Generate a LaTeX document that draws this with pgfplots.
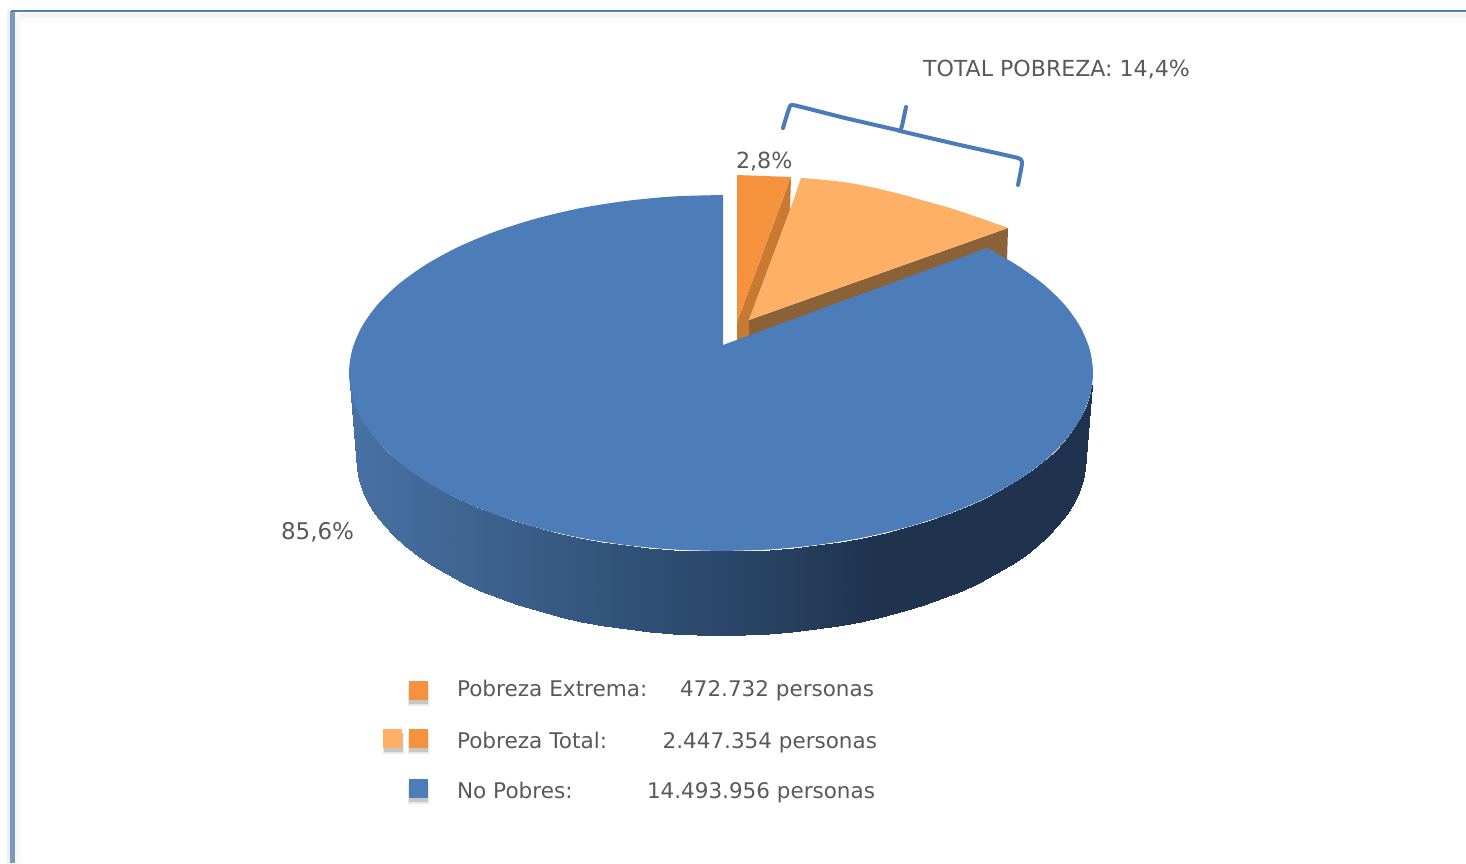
\documentclass[border=0pt]{standalone}
\usepackage{pgfplots}
\pgfplotsset{compat=1.18}
\usepackage{fontspec}
\setmainfont{DejaVu Sans}
\definecolor{blueTop}{RGB}{77,125,185}
\definecolor{orangeA}{RGB}{246,146,62}
\definecolor{orangeB}{RGB}{253,176,102}
\definecolor{orangeS}{RGB}{200,122,50}
\definecolor{brownS}{RGB}{139,98,55}
\definecolor{frameC}{RGB}{88,124,172}
\definecolor{frameL}{RGB}{125,152,190}
\definecolor{braceC}{RGB}{74,123,184}
\definecolor{txt}{RGB}{89,89,89}
\begin{document}
\begin{tikzpicture}[lbl/.style={text=txt, font=\fontsize{#1}{25}\selectfont, inner sep=0pt, outer sep=0pt}]
\begin{axis}[
  name=ax,
  scale only axis, width=1466pt, height=863pt,
  xmin=0, xmax=1466, ymin=0, ymax=863, y dir=reverse,
  hide axis, clip=true,
  colormap={side}{rgb255(0pt)=(72,114,164); rgb255(290pt)=(48,80,118); rgb255(450pt)=(38,62,92); rgb255(520pt)=(31,51,78); rgb255(743pt)=(31,51,78)},
  point meta min=350, point meta max=1093,
]
% frame shadow
\addplot[draw=black!2, line width=10pt] coordinates {(1466,18) (15,18)};
\addplot[draw=black!5, line width=4pt] coordinates {(1466,15) (15,15)};
\addplot[draw=black!3, line width=5pt] coordinates {(17,863) (17,13)};
\addplot[draw=black!6, line width=3pt] coordinates {(8.5,863) (8.5,10)};
% frame
\addplot[draw=frameL, line width=4.5pt] coordinates {(12.5,863) (12.5,11)};
\addplot[draw=frameC, line width=2.6pt] coordinates {(10.5,11) (1466,11)};

% brown side of total-poverty slice
\addplot[draw=none, fill=brownS] coordinates {(1008,228) (749,320) (749,345) (1007,262)} -- cycle;
% dark side of extreme slice
\addplot[draw=none, fill=orangeS] coordinates {(791,177) (737,322) (737,345) (749,340) (749,320) (790,210)} -- cycle;
% extreme poverty front
\addplot[draw=none, fill=orangeA] coordinates {(737,175) (791,177) (737,322)} -- cycle;
% total poverty front
\addplot[draw=none, fill=orangeB, smooth] coordinates {(801,178) (825,180) (850,183) (875,188) (900,194) (925,201) (950,208) (980,218) (1008,228)} -- cycle;
\addplot[draw=none, fill=orangeB] coordinates {(801,178) (825,180.5) (850,183.5) (875,188.5) (900,194.5) (925,201.5) (950,208.5) (980,218.5) (1008,228) (749,320) (790,210)} -- cycle;

% pie side
\addplot[surf, shader=interp, point meta=x] coordinates {
(349,373) (349.8,384.6) (352.2,396.2) (356.1,407.7) (361.7,419.1) (368.7,430.2) (377.3,441.1) (387.4,451.7) (398.8,462) (411.7,471.9) (425.9,481.4) (441.3,490.4) (458,498.9) (475.7,506.8) (494.5,514.2) (514.3,521) (535,527.1) (556.5,532.6) (578.6,537.5) (601.4,541.6) (624.7,544.9) (648.4,547.6) (672.5,549.5) (696.7,550.6) (721,551) (745.3,550.6) (769.5,549.5) (793.6,547.6) (817.3,544.9) (840.6,541.6) (863.4,537.5) (885.5,532.6) (907,527.1) (927.7,521) (947.5,514.2) (966.3,506.8) (984,498.9) (1000.7,490.4) (1016.1,481.4) (1030.3,471.9) (1043.2,462) (1054.6,451.7) (1064.7,441.1) (1073.3,430.2) (1080.3,419.1) (1085.9,407.7) (1089.8,396.2) (1092.2,384.6) (1093,373)

(356,457) (356.8,468.6) (359.1,480.2) (363,491.7) (368.4,503.1) (375.4,514.2) (383.8,525.1) (393.6,535.7) (404.9,546) (417.5,555.9) (431.4,565.4) (446.6,574.4) (462.9,582.9) (480.3,590.8) (498.8,598.2) (518.2,605) (538.5,611.1) (559.6,616.6) (581.3,621.5) (603.7,625.6) (626.5,628.9) (649.8,631.6) (673.4,633.5) (697.1,634.6) (721,635) (744.9,634.6) (768.6,633.5) (792.2,631.6) (815.5,628.9) (838.3,625.6) (860.7,621.5) (882.4,616.6) (903.5,611.1) (923.8,605) (943.2,598.2) (961.7,590.8) (979.1,582.9) (995.4,574.4) (1010.6,565.4) (1024.5,555.9) (1037.1,546) (1048.4,535.7) (1058.2,525.1) (1066.6,514.2) (1073.6,503.1) (1079,491.7) (1082.9,480.2) (1085.2,468.6) (1086,457)
};

% pie top: left half, right part, and the wedge that joins them at the apex
\addplot[draw=none, fill=blueTop, smooth] coordinates {
(723,195) (721,195) (672.5,196.5) (624.7,201.1) (578.6,208.5) (535,218.9) (494.5,231.8) (458,247.1) (425.9,264.6) (398.8,284) (377.3,304.9) (361.7,326.9) (352.2,349.8) (349,373)
(352.2,396.2) (361.7,419.1) (377.3,441.1) (398.8,462) (425.9,481.4) (458,498.9) (494.5,514.2) (535,527.1) (578.6,537.5) (624.7,544.9) (672.5,549.5) (723,551)} -- cycle;
\addplot[draw=none, fill=blueTop, smooth] coordinates {
(721,551) (769.5,549.5) (817.3,544.9) (863.4,537.5) (907,527.1) (947.5,514.2) (984,498.9) (1016.1,481.4) (1043.2,462) (1064.7,441.1) (1080.3,419.1) (1089.8,396.2) (1093,373)
(1089.8,349.8) (1080.3,326.9) (1064.7,304.9) (1043.2,284) (1016.1,264.6) (987,248)} -- cycle;
\addplot[draw=none, fill=blueTop] coordinates {(723,345) (987,248) (1000,300) (800,540) (715,549) (715,360)} -- cycle;

% brace
\addplot[draw=braceC, line width=4pt, line join=round, line cap=round, smooth, tension=0.25] coordinates {(783,128) (786,118) (789,109) (793,105) (845,118) (897,130) (900,131) (902,126) (906,107)};
\addplot[draw=braceC, line width=4pt, line join=round, line cap=round, smooth, tension=0.25] coordinates {(900,131) (960,145) (1018,158) (1022,163) (1020,175) (1018,185)};

% legend shadows
\addplot[only marks, mark=square*, mark size=10.5pt, mark options={draw opacity=0, fill=black!9}] coordinates {(418.5,695) (393,743.5) (418.5,743.5) (418.5,793)};
\addplot[only marks, mark=square*, mark size=9.5pt, mark options={draw opacity=0, fill=black!22}] coordinates {(418.5,694) (393,742.5) (418.5,742.5) (418.5,792)};
% legend squares
\addplot[only marks, mark=square*, mark size=9.5pt, mark options={draw opacity=0, fill=orangeA}] coordinates {(418,690) (418,738)};
\addplot[only marks, mark=square*, mark size=9.5pt, mark options={draw opacity=0, fill=orangeB}] coordinates {(392,738)};
\addplot[only marks, mark=square*, mark size=9.5pt, mark options={draw opacity=0, fill=blueTop}] coordinates {(418,788)};

\node[lbl=22.1, anchor=base west] at (axis cs:923,76) {TOTAL POBREZA: 14,4\%};
\node[lbl=22.2, anchor=base west] at (axis cs:736,168) {2,8\%};
\node[lbl=23, anchor=base west] at (axis cs:281,539) {85,6\%};
\node[lbl=21.6, anchor=base west] at (axis cs:457,696) {Pobreza Extrema:};
\node[lbl=21.5, anchor=base east] at (axis cs:874,696) {472.732 personas};
\node[lbl=21.6, anchor=base west] at (axis cs:457,748) {Pobreza Total:};
\node[lbl=21.5, anchor=base east] at (axis cs:877,748) {2.447.354 personas};
\node[lbl=21.6, anchor=base west] at (axis cs:457,798) {No Pobres:};
\node[lbl=21.5, anchor=base east] at (axis cs:875,798) {14.493.956 personas};
\end{axis}
\pgfresetboundingbox
\useasboundingbox (ax.south west) rectangle (ax.north east);
\end{tikzpicture}
\end{document}
